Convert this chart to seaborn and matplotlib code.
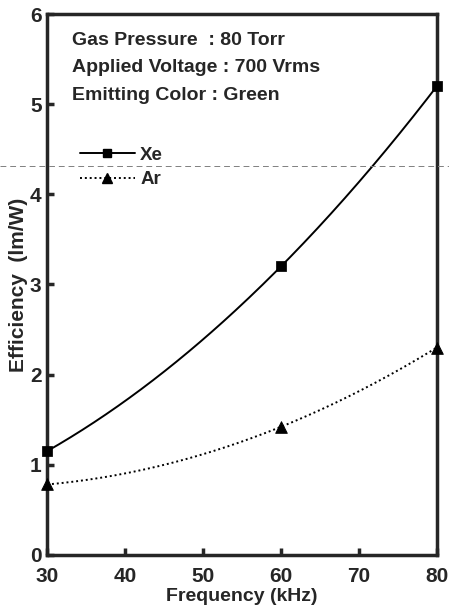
import numpy as np
import pandas as pd
import matplotlib
matplotlib.use("Agg")
import matplotlib.pyplot as plt
from matplotlib.lines import Line2D
import seaborn as sns

freq = [30, 60, 80]
xe_eff = [1.15, 3.2, 5.2]
ar_eff = [0.78, 1.42, 2.3]
x_ticks = [30, 40, 50, 60, 70, 80]
y_ticks = [0, 1, 2, 3, 4, 5, 6]
info_lines = ["Gas Pressure  : 80 Torr", "Applied Voltage : 700 Vrms", "Emitting Color : Green"]

sns.set_style("ticks")
plt.rcParams['font.family'] = ['Liberation Sans', 'DejaVu Sans']
plt.rcParams['font.weight'] = 'bold'

fig = plt.figure(figsize=(4.49, 6.13), dpi=100)
ax = fig.add_axes([0.105, 0.095, 0.868, 0.882])

def smooth(xs, ys):
    c = np.polyfit(xs, ys, 2)
    xx = np.linspace(min(xs), max(xs), 200)
    return pd.DataFrame({"x": xx, "y": np.polyval(c, xx)})

sx = smooth(freq, xe_eff)
sa = smooth(freq, ar_eff)
sns.lineplot(data=sx, x="x", y="y", ax=ax, color="black", lw=1.4, linestyle="-")
sns.lineplot(data=sa, x="x", y="y", ax=ax, color="black", lw=1.4, linestyle=(0, (1, 1.5)))
sns.scatterplot(x=freq, y=xe_eff, ax=ax, marker="s", s=45, color="black", edgecolor="black", zorder=5, clip_on=False)
sns.scatterplot(x=freq, y=ar_eff, ax=ax, marker="^", s=70, color="black", edgecolor="black", zorder=5, clip_on=False)

ax.set_xlim(30, 80)
ax.set_ylim(0, 6)
ax.set_xticks(x_ticks)
ax.set_yticks(y_ticks)
ax.tick_params(direction="in", length=5, width=2.5, labelsize=15)
ax.tick_params(axis="x", pad=9)
ax.tick_params(axis="y", pad=4)
for lab in ax.get_xticklabels() + ax.get_yticklabels():
    lab.set_fontweight("bold")
for s in ax.spines.values():
    s.set_linewidth(2.5)
ax.set_xlabel("Frequency (kHz)", fontsize=14, fontweight="bold", labelpad=1)
ax.set_ylabel("Efficiency  (lm/W)", fontsize=15, fontweight="bold", labelpad=1)

ys = [0.952, 0.902, 0.850]
for y, t in zip(ys, info_lines):
    ax.text(0.065, y, t, transform=ax.transAxes, fontsize=14,
            fontweight="bold", va="center", ha="left")

handles = [Line2D([], [], color="black", lw=1.4, marker="s", markersize=6),
           Line2D([], [], color="black", lw=1.4, linestyle=(0, (1, 1.5)), marker="^", markersize=7)]
leg = ax.legend(handles, ["Xe", "Ar"], loc="upper left", bbox_to_anchor=(0.085, 0.755),
                frameon=False, handlelength=2.9, handletextpad=0.3, borderpad=0, borderaxespad=0,
                labelspacing=0.4, prop={"weight": "bold", "size": 13.5})

fig.add_artist(Line2D([0, 1], [1 - 166 / 613, 1 - 166 / 613], transform=fig.transFigure,
                      color="gray", lw=0.7, linestyle=(0, (6, 4))))

fig.savefig("out.png", dpi=100)
